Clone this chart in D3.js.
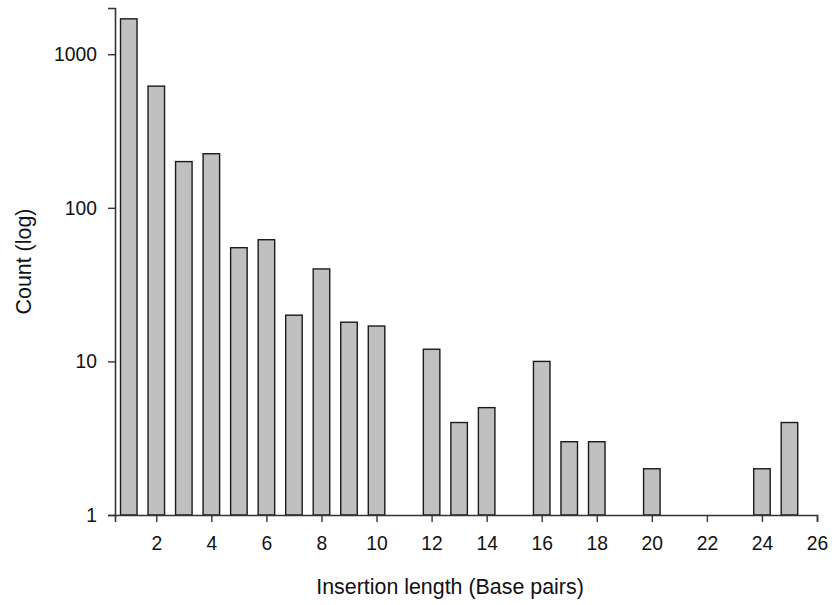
<!DOCTYPE html>
<html>
<head>
<meta charset="utf-8">
<script src="https://cdn.jsdelivr.net/npm/d3@7"></script>
<style>
  body { margin: 0; background: #fff; }
  text { font-family: "Liberation Sans", Arial, sans-serif; }
</style>
</head>
<body>
<div id="my_dataviz"></div>
<script>
// data
var lengths = [1, 2, 3, 4, 5, 6, 7, 8, 9, 10, 12, 13, 14, 16, 17, 18, 20, 24, 25];
var counts  = [1700, 620, 200, 225, 55, 62, 20, 40, 18, 17, 12, 4, 5, 10, 3, 3, 2, 2, 4];
var xTicks = [2, 4, 6, 8, 10, 12, 14, 16, 18, 20, 22, 24, 26];
var yTicks = [1, 10, 100, 1000];

// Graph dimension
var margin = {top: 8, right: 15, bottom: 90, left: 115},
    width = 832 - margin.left - margin.right,
    height = 605 - margin.top - margin.bottom;

var svg = d3.select("#my_dataviz")
  .append("svg")
    .attr("width", 832)
    .attr("height", 605)
  .append("g")
    .attr("transform", "translate(" + margin.left + "," + margin.top + ")");

// scales
var x = d3.scaleLinear()
  .domain([0.5, 26])
  .range([0, 702]);

var y = d3.scaleLog()
  .domain([1, 2000])
  .range([height, 0]);

var barW = x(1.6) - x(1);

// bars
svg.selectAll(".bar")
  .data(lengths)
  .enter()
  .append("rect")
    .attr("class", "bar")
    .attr("x", function(d) { return x(d) - barW / 2; })
    .attr("width", barW)
    .attr("y", function(d, i) { return y(counts[i]); })
    .attr("height", function(d, i) { return height - y(counts[i]); })
    .style("fill", "#c0c0c0")
    .style("stroke", "#1a1a1a")
    .style("stroke-width", 1.4);

// x axis
var gx = svg.append("g")
  .attr("transform", "translate(0," + height + ")")
  .call(d3.axisBottom(x).tickValues(xTicks).tickSizeOuter(0).tickSize(7).tickPadding(14));

// y axis
var gy = svg.append("g")
  .call(d3.axisLeft(y).tickValues(yTicks).tickFormat(d3.format("d")).tickSizeOuter(0).tickSize(7).tickPadding(11));

[gx, gy].forEach(function(g) {
  g.select(".domain").style("stroke", "#333").style("stroke-width", 1.6);
  g.selectAll(".tick line").style("stroke", "#333").style("stroke-width", 1.4);
  g.selectAll(".tick text")
    .style("font-family", "'Liberation Sans', Arial, sans-serif")
    .style("font-size", "19.3px")
    .style("fill", "#111");
});

// axis titles
svg.append("text")
  .attr("x", 450 - margin.left)
  .attr("y", 594 - margin.top)
  .attr("text-anchor", "middle")
  .style("font-size", "21.4px")
  .style("fill", "#111")
  .text("Insertion length (Base pairs)");

svg.append("text")
  .attr("transform", "translate(" + (31 - margin.left) + "," + (height / 2) + ") rotate(-90)")
  .attr("text-anchor", "middle")
  .style("font-size", "21.4px")
  .style("fill", "#111")
  .text("Count (log)");
</script>
</body>
</html>
